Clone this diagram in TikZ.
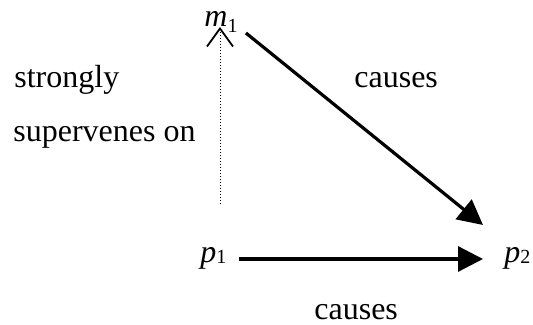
\documentclass[tikz,border=0pt]{standalone}
\usepackage{fontspec}
\setmainfont{Liberation Serif}
\usepackage{tikz}
\usetikzlibrary{arrows.meta}
\newcommand{\low}[2]{\raisebox{#1}{\fontsize{10pt}{10pt}\selectfont #2}}

\begin{document}
\begin{tikzpicture}[x=0.5pt, y=0.5pt,
    every node/.style={font=\fontsize{16pt}{19pt}\selectfont, inner sep=0pt},
    lbl/.style={anchor=base west},
    cause/.style={-{Triangle[length=12.5pt, width=12.5pt]}, line width=1.6pt},
    superv/.style={-{Straight Barb[length=9pt, width=13pt, line width=0.9pt]},
                   densely dotted, line width=0.5pt}]
  \useasboundingbox (0,0) rectangle (533,325);
  \node[lbl] (m1) at (204,298) {\textit{m}\low{-3pt}{1}};
  \node[lbl] (p1) at (200,62)  {\textit{p}\low{-0.5pt}{1}};
  \node[lbl] (p2) at (504,62)  {\textit{p}\low{-0.5pt}{2}};
  \node[lbl] (sv1) at (14,237) {strongly};
  \node[lbl] (sv2) at (13,183) {supervenes on};
  \node[lbl] (c1) at (354,237) {causes};
  \node[lbl] (c2) at (314,5)   {causes};
  \coordinate (svbot) at (220,121);
  \coordinate (svtop) at (220,298);
  \draw[superv] (svbot) -- (svtop);
  \draw[cause] ([shift={(8,-6)}]m1.base east) -- ([shift={(-21,38)}]p2.base west);
  \draw[cause] ([shift={(12,4)}]p1.base east) -- ([shift={(-21,4)}]p2.base west);
\end{tikzpicture}
\end{document}
